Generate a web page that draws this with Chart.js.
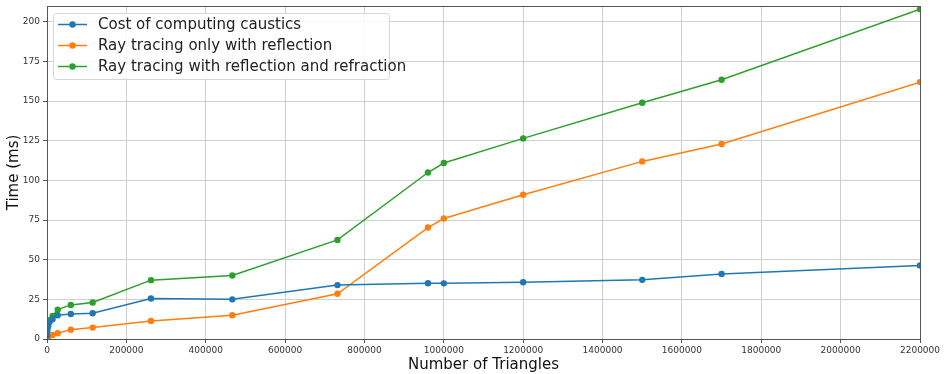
<!DOCTYPE html>
<html>
<head>
<meta charset="utf-8">
<script src="https://cdn.jsdelivr.net/npm/chart.js@4/dist/chart.umd.min.js"></script>
<style>
  html, body { margin: 0; padding: 0; background: #fff; }
  #wrap { width: 944px; height: 374px; }
</style>
</head>
<body>
<div id="wrap"><canvas id="chart" width="944" height="374"></canvas></div>
<script>
// Datos
const triangles = [100, 1000, 3000, 6000, 14000, 27000, 60000, 115000, 262000, 467000, 732000, 960000, 1000000, 1200000, 1500000, 1700000, 2200000];
const causticsCost = [2, 5, 8, 10.5, 12.5, 15, 15.8, 16.2, 25.5, 25, 34, 35.2, 35.1, 35.8, 37.3, 41, 46.4];
const reflectionOnly = [0.5, 1, 1.5, 2, 2.6, 3.6, 5.9, 7.2, 11.4, 15, 28.5, 70.3, 76, 91, 112, 123, 162];
const reflectionRefraction = [3, 7, 10, 11.8, 14.6, 18.5, 21.5, 23, 37.1, 40, 62.5, 105, 111, 126.5, 149, 163.5, 208];

const seriesLabels = ['Cost of computing caustics', 'Ray tracing only with reflection', 'Ray tracing with reflection and refraction'];
const xTicks = [0, 200000, 400000, 600000, 800000, 1000000, 1200000, 1400000, 1600000, 1800000, 2000000, 2200000];
const yTicks = [0, 25, 50, 75, 100, 125, 150, 175, 200];

const COLORS = ['#1f77b4', '#ff7f0e', '#2ca02c'];
const FONT = 'DejaVu Sans';

function toPoints(ys) {
  return ys.map((y, i) => ({ x: triangles[i], y }));
}

function makeDataset(label, ys, color) {
  return {
    label,
    data: toPoints(ys),
    borderColor: color,
    backgroundColor: color,
    borderWidth: 1.5,
    pointRadius: 3.2,
    pointBorderWidth: 0,
    pointBackgroundColor: color,
    tension: 0
  };
}

// Marco de los ejes y leyenda dentro del area del grafico
const framePlugin = {
  id: 'frame',
  afterDraw(chart) {
    const { ctx, chartArea: a } = chart;
    ctx.save();
    ctx.strokeStyle = '#555';
    ctx.lineWidth = 1;
    ctx.strokeRect(a.left + 0.5, a.top + 0.5, a.right - a.left, a.bottom - a.top);

    // Leyenda
    const lx = a.left + 6, ly = a.top + 7, lw = 336, lh = 66;
    ctx.fillStyle = 'rgba(255,255,255,0.85)';
    ctx.strokeStyle = '#d6d6d6';
    ctx.beginPath();
    ctx.roundRect(lx + 0.5, ly + 0.5, lw, lh, 3);
    ctx.fill();
    ctx.stroke();
    ctx.font = '15px "' + FONT + '"';
    ctx.textBaseline = 'middle';
    chart.data.datasets.forEach((ds, i) => {
      const cy = ly + 11.5 + i * 21;
      ctx.strokeStyle = ds.borderColor;
      ctx.lineWidth = 1.5;
      ctx.beginPath();
      ctx.moveTo(lx + 5, cy);
      ctx.lineTo(lx + 34, cy);
      ctx.stroke();
      ctx.fillStyle = ds.borderColor;
      ctx.beginPath();
      ctx.arc(lx + 19.5, cy, 3.2, 0, Math.PI * 2);
      ctx.fill();
      ctx.fillStyle = '#222';
      ctx.fillText(ds.label, lx + 45, cy + 1);
    });
    ctx.restore();
  }
};

new Chart(document.getElementById('chart').getContext('2d'), {
  type: 'line',
  data: {
    datasets: [
      makeDataset(seriesLabels[0], causticsCost, COLORS[0]),
      makeDataset(seriesLabels[1], reflectionOnly, COLORS[1]),
      makeDataset(seriesLabels[2], reflectionRefraction, COLORS[2])
    ]
  },
  options: {
    responsive: false,
    animation: false,
    layout: { padding: { top: 6, right: 24, left: 0, bottom: 0 } },
    plugins: {
      legend: { display: false },
      tooltip: { enabled: false }
    },
    scales: {
      x: {
        type: 'linear',
        min: 0,
        max: 2200000,
        afterBuildTicks: s => { s.ticks = xTicks.map(v => ({ value: v })); },
        afterFit: s => { s.height = 35; s.paddingLeft = 0; s.paddingRight = 0; },
        grid: { color: '#cfcfcf', lineWidth: 1, tickColor: '#555', tickLength: 4 },
        border: { color: '#555' },
        ticks: {
          color: '#333',
          font: { family: FONT, size: 9 },
          padding: 2,
          maxRotation: 0,
          autoSkip: false,
          callback: v => String(v)
        },
        title: {
          display: true,
          text: 'Number of Triangles',
          color: '#111',
          font: { family: FONT, size: 15 },
          padding: { top: 0, bottom: 0 }
        }
      },
      y: {
        type: 'linear',
        min: 0,
        max: 210,
        afterBuildTicks: s => { s.ticks = yTicks.map(v => ({ value: v })); },
        afterFit: s => { s.width = 47; s.paddingTop = 0; s.paddingBottom = 0; },
        grid: { color: '#cfcfcf', lineWidth: 1, tickColor: '#555', tickLength: 4 },
        border: { color: '#555' },
        ticks: {
          color: '#333',
          font: { family: FONT, size: 9 },
          padding: 3,
          callback: v => String(v)
        },
        title: {
          display: true,
          text: 'Time (ms)',
          color: '#111',
          font: { family: FONT, size: 15 },
          padding: { top: 5, bottom: 4 }
        }
      }
    }
  },
  plugins: [framePlugin]
});
</script>
</body>
</html>
